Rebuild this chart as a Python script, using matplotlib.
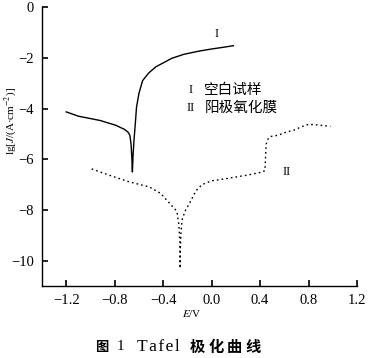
import matplotlib
matplotlib.use('Agg')
import matplotlib.pyplot as plt

plt.rcParams['font.family'] = ['Liberation Serif', 'Noto Sans CJK SC']
plt.rcParams['mathtext.fontset'] = 'stix'

# curve I : blank sample (solid)
e1 = [-1.20, -1.10, -0.92, -0.79, -0.72, -0.69, -0.675, -0.665, -0.658, -0.654,
      -0.648, -0.64, -0.63, -0.62, -0.60, -0.57, -0.52, -0.46, -0.40, -0.33,
      -0.23, -0.10, 0.00, 0.10, 0.18]
j1 = [-4.13, -4.30, -4.47, -4.66, -4.82, -4.93, -5.05, -5.40, -6.00, -6.50,
      -5.80, -5.20, -4.60, -3.95, -3.40, -2.90, -2.60, -2.35, -2.20, -2.02,
      -1.86, -1.73, -1.65, -1.58, -1.52]

# curve II : anodic oxide film (dotted)
e2 = [-0.99, -0.85, -0.68, -0.515, -0.42, -0.35, -0.30, -0.285, -0.27, -0.262,
      -0.26, -0.258, -0.252, -0.244, -0.22, -0.19, -0.13, -0.08, 0.00, 0.10,
      0.20, 0.30, 0.40, 0.44, 0.445, 0.45, 0.47, 0.49, 0.55, 0.62, 0.68, 0.74,
      0.80, 0.88, 0.98]
j2 = [-6.38, -6.62, -6.89, -7.09, -7.35, -7.72, -7.98, -8.11, -8.60, -9.30,
      -10.30, -9.50, -8.80, -8.39, -8.05, -7.80, -7.25, -7.00, -6.85, -6.78,
      -6.70, -6.62, -6.52, -6.45, -5.90, -5.40, -5.15, -5.10, -5.05, -4.92,
      -4.85, -4.72, -4.62, -4.65, -4.70]

xticks = [-1.2, -0.8, -0.4, 0.0, 0.4, 0.8, 1.2]
xtick_labels = ['\u22121.2', '\u22120.8', '\u22120.4', '0.0', '0.4', '0.8', '1.2']
yticks = [0, -2, -4, -6, -8, -10]
ytick_labels = ['0', '\u22122', '\u22124', '\u22126', '\u22128', '\u221210']

cjk = ['Noto Sans CJK SC', 'DejaVu Sans']

fig = plt.figure(figsize=(3.7, 3.58), dpi=100)
ax = fig.add_axes([0.1135, 0.201, 0.8515, 0.779])

ax.plot(e1, j1, color='black', linewidth=1.0)
ax.plot(e2, j2, color='black', linewidth=1.0, linestyle=(0, (1.2, 2.2)))

ax.set_xlim(-1.4, 1.2)
ax.set_ylim(-11, 0)
ax.set_xticks(xticks)
ax.set_xticklabels(xtick_labels)
ax.set_yticks(yticks)
ax.set_yticklabels(ytick_labels)
ax.tick_params(direction='in', length=4, width=1.2, labelsize=10.5, pad=6)
ax.spines['top'].set_visible(False)
ax.spines['right'].set_visible(False)
for s in ['left', 'bottom']:
    ax.spines[s].set_linewidth(1.0)

# curve labels and legend text
ax.text(0.04, -1.05, 'I', fontsize=9, ha='center', va='center')
ax.text(0.62, -6.5, 'II', fontsize=9, ha='center', va='center')
ax.text(-0.19, -3.27, 'I', fontsize=9, ha='left', va='center')
ax.text(-0.06, -3.27, '空白试样', fontsize=10.5, ha='left', va='center', family=cjk)
ax.text(-0.21, -3.98, 'II', fontsize=9, ha='left', va='center')
ax.text(-0.06, -3.98, '阳极氧化膜', fontsize=10.5, ha='left', va='center', family=cjk)

fig.text(0.518, 0.125, '$E$/V', fontsize=8, ha='center', va='center')
fig.text(0.028, 0.662, 'lg[$J$/(A·cm$^{-2}$)]', fontsize=8, rotation=90,
         ha='center', va='center')

# caption
cy = 0.032
fig.text(95 / 370, cy, '图', fontsize=9.5, ha='left', va='center', family=cjk,
         fontweight='bold')
fig.text(117 / 370, cy, '1', fontsize=11, ha='left', va='center')
fig.text(137 / 370, cy, 'T\u200aa\u200af\u200ae\u200al', fontsize=12.5,
         ha='left', va='center')
for i, ch in enumerate('极化曲线'):
    fig.text((190 + 18.5 * i) / 370, cy, ch, fontsize=11, ha='left', va='center',
             family=cjk, fontweight='bold')

fig.savefig('out.png', dpi=100)
